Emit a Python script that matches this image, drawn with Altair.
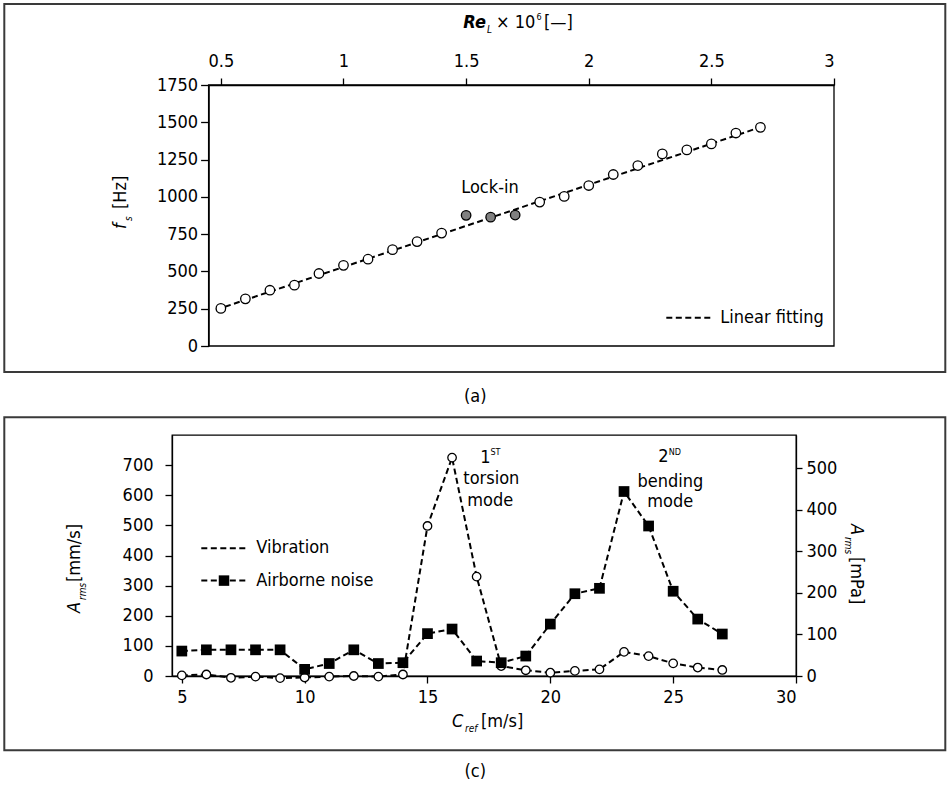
import altair as alt
import pandas as pd

# ---------------- data ----------------
re_vals = [0.5, 0.6, 0.7, 0.8, 0.9, 1.0, 1.1, 1.2, 1.3, 1.4, 1.5, 1.6, 1.7,
           1.8, 1.9, 2.0, 2.1, 2.2, 2.3, 2.4, 2.5, 2.6, 2.7]
fs_vals = [252, 316, 374, 408, 486, 541, 582, 646, 700, 757, 876, 864, 878,
           965, 1003, 1076, 1150, 1210, 1288, 1315, 1355, 1428, 1466]
point_kind = ["normal"] * 10 + ["lock"] * 3 + ["normal"] * 10
fit_re = [0.48, 2.72]
fit_fs = [243, 1478]

c_ref = [5, 6, 7, 8, 9, 10, 11, 12, 13, 14, 15, 16, 17, 18, 19, 20, 21, 22,
         23, 24, 25, 26, 27]
vib_vals = [2, 5, -6, -2, -7, -5, -2, 0, -2, 5, 498, 725, 330, 33, 19, 11, 17,
            22, 80, 66, 42, 28, 20]
noise_vals = [60, 63, 63, 63, 63, 16, 30, 63, 30, 32, 102, 113, 36, 32, 48,
              125, 198, 211, 444, 361, 204, 137, 101]

top_ticks_x = [0.5, 1, 1.5, 2, 2.5, 3]
top_ticks_y = [0, 250, 500, 750, 1000, 1250, 1500, 1750]
bot_ticks_x = [5, 10, 15, 20, 25, 30]
bot_ticks_left = [0, 100, 200, 300, 400, 500, 600, 700]
bot_ticks_right = [0, 100, 200, 300, 400, 500]

FONT = "DejaVu Sans Condensed, Roboto, sans-serif"
FS = 18
SHIFT = 36.6           # top plot starts this far right of the bottom plot
W1 = 662               # top view (includes SHIFT)
H1 = 261
W2, H2 = 624, 241
DASH = [6, 3.5]


def one():
    return pd.DataFrame({"k": [0]})


def label(s, x, y, size=FS, style="normal", weight="normal", align="left",
          baseline="middle", angle=0):
    return alt.Chart(pd.DataFrame({"t": [s]})).mark_text(
        font=FONT, fontSize=size, fontStyle=style, fontWeight=weight,
        align=align, baseline=baseline, angle=angle, color="black"
    ).encode(x=alt.value(x), y=alt.value(y), text="t:N")


def box(x1, x2, y1, y2, color="#3a3a3a", width=2):
    return alt.Chart(one()).mark_rect(
        fill="transparent", stroke=color, strokeWidth=width
    ).encode(x=alt.value(x1), x2=alt.value(x2), y=alt.value(y1), y2=alt.value(y2))


def dash(x1, x2, y):
    return alt.Chart(one()).mark_rule(
        color="black", strokeWidth=2, strokeDash=DASH
    ).encode(x=alt.value(x1), x2=alt.value(x2), y=alt.value(y))


# ---------------- top panel (a) ----------------
xs_top = alt.Scale(domain=[0.45, 3.0], nice=False, zero=False,
                   range=[SHIFT, W1])
ys_top = alt.Scale(domain=[0, 1750], nice=False)
ax_top = alt.Axis(orient="top", values=top_ticks_x, title=None, grid=False,
                  tickSize=7, labelPadding=8, format="~g", labelOverlap=False,
                  tickCount=50)
ay_top = alt.Axis(values=top_ticks_y, title=None, grid=False, tickSize=8,
                  labelPadding=3, format="d", offset=-SHIFT, labelOverlap=False,
                  tickCount=50)

df_top = pd.DataFrame({"re": re_vals, "fs": fs_vals, "kind": point_kind})
df_fit = pd.DataFrame({"re": fit_re, "fs": fit_fs})

fit_line = alt.Chart(df_fit).mark_line(
    color="black", strokeWidth=2, strokeDash=DASH
).encode(x=alt.X("re:Q", scale=xs_top, axis=ax_top),
         y=alt.Y("fs:Q", scale=ys_top, axis=ay_top))

top_pts = alt.Chart(df_top).mark_point(
    shape="circle", filled=True, size=90, stroke="black", strokeWidth=1.3,
    opacity=1
).encode(
    x=alt.X("re:Q", scale=xs_top, axis=ax_top),
    y=alt.Y("fs:Q", scale=ys_top, axis=ay_top),
    fill=alt.Fill("kind:N", scale=alt.Scale(domain=["normal", "lock"],
                                            range=["white", "#808080"]),
                  legend=None),
)

top = alt.layer(
    box(-167.7, 773.3, -81, 287),
    box(SHIFT, W1, 0, H1, color="black", width=1.3),
    fit_line,
    top_pts,
    label("Lock-in", 318, 103, align="center"),
    dash(494.3, 539.3, 232.7),
    label("Linear fitting", 548.3, 232.7),
    # top axis title: Re_L x 10^6 [-]
    label("Re", 291.3, -57, style="italic", weight="bold", baseline="alphabetic"),
    label("L", 315, -52, size=10, style="italic", baseline="alphabetic"),
    label("\u00d7 10", 324, -57, baseline="alphabetic"),
    label("6", 364.5, -65, size=9, baseline="alphabetic"),
    label("[\u2014]", 372, -57, baseline="alphabetic"),
    # y title: f_s [Hz]
    label("f", -46, 144, style="italic", angle=270, baseline="alphabetic"),
    label("s", -40, 136, size=10, style="italic", angle=270, baseline="alphabetic"),
    label("[Hz]", -46, 124, angle=270, baseline="alphabetic"),
    # caption
    label("(a)", 303.3, 312, align="center"),
).properties(width=W1, height=H1, view=alt.ViewBackground(stroke="transparent"))

# ---------------- bottom panel (c) ----------------
xs_bot = alt.Scale(domain=[4.6, 30], nice=False, zero=False)
yl_bot = alt.Scale(domain=[0, 800], nice=False)
yr_bot = alt.Scale(domain=[0, 580], nice=False)
ax_bot = alt.Axis(values=bot_ticks_x, title=None, grid=False, tickSize=7,
                  labelPadding=5, format="d", labelOverlap=False, tickCount=50)
ayl_bot = alt.Axis(values=bot_ticks_left, title=None, grid=False, tickSize=7,
                   labelPadding=12, format="d", labelOverlap=False,
                   tickCount=50)
ayr_bot = alt.Axis(orient="right", values=bot_ticks_right, title=None,
                   grid=False, tickSize=6, labelPadding=4, format="d",
                   labelOverlap=False, tickCount=50)

df_bot = pd.DataFrame({"c": c_ref, "vib": vib_vals, "noise": noise_vals})
base = alt.Chart(df_bot)

vib_line = base.mark_line(color="black", strokeWidth=2, strokeDash=DASH).encode(
    x=alt.X("c:Q", scale=xs_bot, axis=ax_bot),
    y=alt.Y("vib:Q", scale=yl_bot, axis=ayl_bot))
vib_pts = base.mark_point(shape="circle", filled=True, fill="white",
                          stroke="black", strokeWidth=1.3, size=72,
                          opacity=1).encode(
    x=alt.X("c:Q", scale=xs_bot, axis=ax_bot),
    y=alt.Y("vib:Q", scale=yl_bot, axis=ayl_bot))
noise_line = base.mark_line(color="black", strokeWidth=2, strokeDash=DASH).encode(
    x=alt.X("c:Q", scale=xs_bot, axis=ax_bot),
    y=alt.Y("noise:Q", scale=yr_bot, axis=ayr_bot))
noise_pts = base.mark_square(color="black", size=115, opacity=1).encode(
    x=alt.X("c:Q", scale=xs_bot, axis=ax_bot),
    y=alt.Y("noise:Q", scale=yr_bot, axis=ayr_bot))

left_layer = alt.layer(vib_line, vib_pts)
right_layer = alt.layer(noise_line, noise_pts)
data_layer = alt.layer(left_layer, right_layer).resolve_scale(y="independent")

bottom = alt.layer(
    box(-167.7, 773.3, -17.7, 315.3),
    data_layer,
    # legend
    dash(29.3, 74.3, 113.3),
    label("Vibration", 84.3, 113.3),
    dash(29.3, 74.3, 145.6),
    alt.Chart(one()).mark_square(color="black", size=110, opacity=1).encode(
        x=alt.value(52), y=alt.value(145.6)),
    label("Airborne noise", 84.3, 145.6),
    # annotations
    label("1", 313.3, 23.3, align="center"),
    label("ST", 323.5, 17.3, size=9, align="center"),
    label("torsion", 319.3, 44.3, align="center"),
    label("mode", 318.3, 65.8, align="center"),
    label("2", 491.3, 22.3, align="center"),
    label("ND", 502.8, 17.3, size=9, align="center"),
    label("bending", 498.3, 46.5, align="center"),
    label("mode", 498.3, 66.8, align="center"),
    # x title C_ref [m/s]
    label("C", 280, 292.3, style="italic", baseline="alphabetic"),
    label("ref", 293, 297.3, size=10, style="italic", baseline="alphabetic"),
    label("[m/s]", 309, 292.3, baseline="alphabetic"),
    # left title A_rms [mm/s]
    label("A", -92, 178, style="italic", angle=270, baseline="alphabetic"),
    label("rms", -86, 165, size=10, style="italic", angle=270, baseline="alphabetic"),
    label("[mm/s]", -92, 147, angle=270, baseline="alphabetic"),
    # right title A_rms [mPa]
    label("A", 679.3, 89, style="italic", angle=90, baseline="alphabetic"),
    label("rms", 673.3, 102, size=10, style="italic", angle=90, baseline="alphabetic"),
    label("[mPa]", 679.3, 122, angle=90, baseline="alphabetic"),
    # caption
    label("(c)", 303.3, 337.3, align="center"),
).properties(width=W2, height=H2)

chart = alt.concat(top, bottom, columns=1, spacing=8,
                   bounds="full").properties(
    padding={"left": 2, "top": 2, "right": 0, "bottom": 0},
    background="white",
).configure_view(
    stroke="black", strokeWidth=1.3
).configure_axis(
    labelFont=FONT, labelFontSize=FS, labelColor="black",
    domainColor="black", tickColor="black", domainWidth=1.3, tickWidth=1.3,
)

chart.save("out.html", embed_options={"renderer": "svg", "actions": False})
